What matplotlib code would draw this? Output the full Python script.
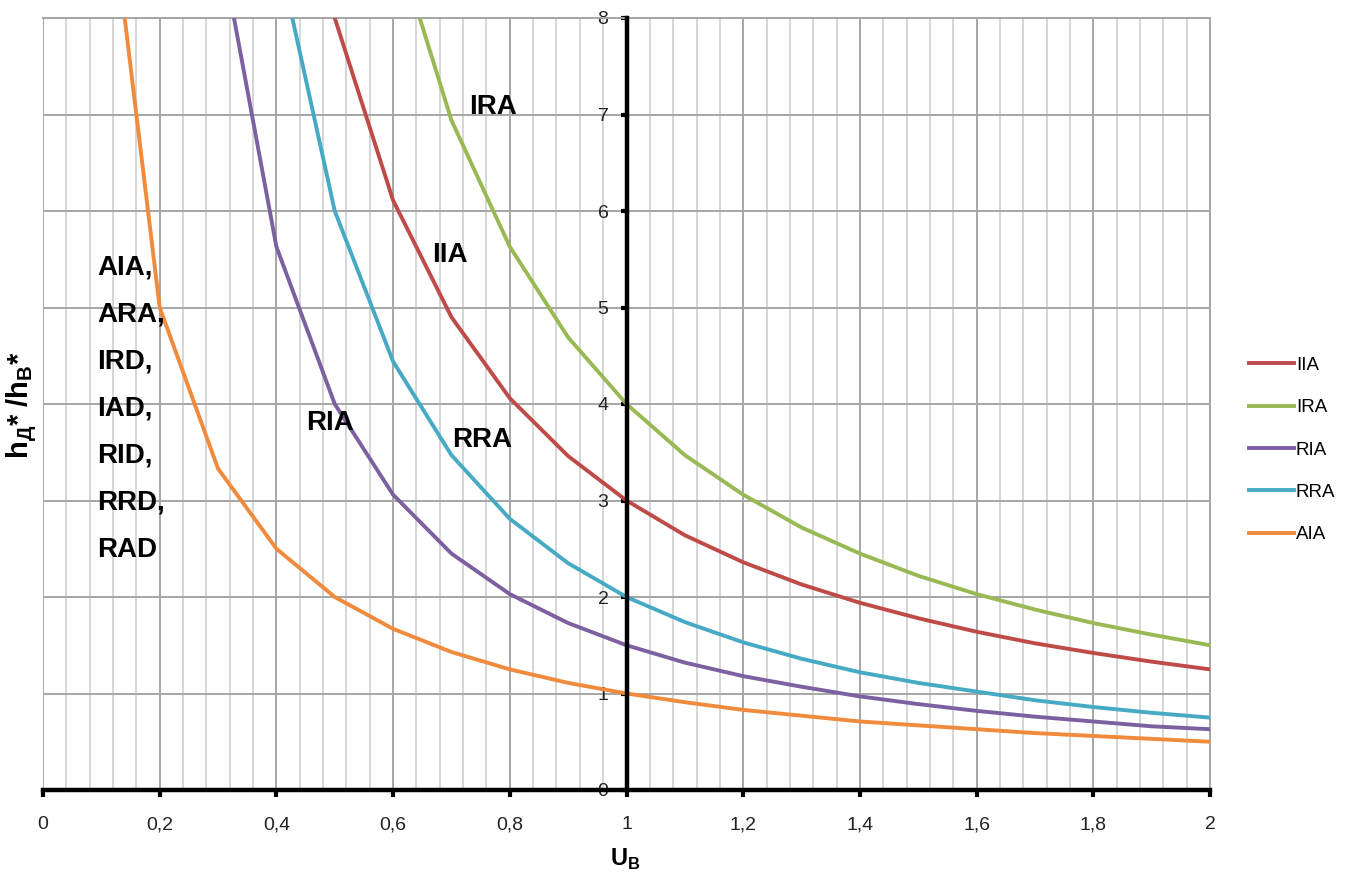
import matplotlib
matplotlib.use('Agg')
import matplotlib.pyplot as plt
from matplotlib.ticker import MultipleLocator, FixedLocator, FixedFormatter

plt.rcParams['font.family'] = ['Liberation Sans', 'DejaVu Sans']

# ---- data (step 0.1 on U_B) ----
u_b = [0.1, 0.2, 0.3, 0.4, 0.5, 0.6, 0.7, 0.8, 0.9, 1.0,
       1.1, 1.2, 1.3, 1.4, 1.5, 1.6, 1.7, 1.8, 1.9, 2.0]

iia = [120, 35, 17.8, 11.25, 8.0, 6.11, 4.9, 4.06, 3.46, 3.0,
       2.64, 2.36, 2.13, 1.94, 1.78, 1.64, 1.52, 1.42, 1.33, 1.25]
ira = [220, 60, 28.9, 17.5, 12.0, 8.89, 6.94, 5.63, 4.69, 4.0,
       3.47, 3.06, 2.72, 2.45, 2.22, 2.03, 1.87, 1.73, 1.61, 1.5]
ria = [60, 17.5, 8.89, 5.63, 4.0, 3.06, 2.45, 2.03, 1.73, 1.5,
       1.32, 1.18, 1.07, 0.97, 0.89, 0.82, 0.76, 0.71, 0.66, 0.63]
rra = [110, 30, 14.4, 8.75, 6.0, 4.44, 3.47, 2.81, 2.35, 2.0,
       1.74, 1.53, 1.36, 1.22, 1.11, 1.02, 0.93, 0.86, 0.80, 0.75]
aia = [10, 5.0, 3.33, 2.5, 2.0, 1.67, 1.43, 1.25, 1.11, 1.0,
       0.91, 0.83, 0.77, 0.71, 0.67, 0.63, 0.59, 0.56, 0.53, 0.5]

series_names = ['IIA', 'IRA', 'RIA', 'RRA', 'AIA']
series_vals = [iia, ira, ria, rra, aia]
colors = ['#BE4B48', '#98B954', '#7D60A0', '#46AAC5', '#F08A3C']

x_ticks = [0, 0.2, 0.4, 0.6, 0.8, 1.0, 1.2, 1.4, 1.6, 1.8, 2.0]
x_tick_labels = ['0', '0,2', '0,4', '0,6', '0,8', '1', '1,2', '1,4', '1,6', '1,8', '2']
y_ticks = [0, 1, 2, 3, 4, 5, 6, 7, 8]

group_label = ['AIA,', 'ARA,', 'IRD,', 'IAD,', 'RID,', 'RRD,', 'RAD']

# ---- figure ----
fig = plt.figure(figsize=(13.48, 8.76), dpi=100)
ax = fig.add_axes([43 / 1348, 1 - 790 / 876, 1167 / 1348, 772 / 876])

for name, vals, c in zip(series_names, series_vals, colors):
    ax.plot(u_b, vals, color=c, lw=2.8, label=name, zorder=3)

ax.set_xlim(0, 2)
ax.set_ylim(0, 8)

# grid
ax.xaxis.set_major_locator(FixedLocator(x_ticks))
ax.xaxis.set_major_formatter(FixedFormatter(x_tick_labels))
ax.xaxis.set_minor_locator(MultipleLocator(0.04))
ax.yaxis.set_major_locator(FixedLocator(y_ticks))
ax.grid(which='major', color='#A6A6A6', lw=1.4, zorder=0)
ax.grid(which='minor', axis='x', color='#CFCFCF', lw=1.2, zorder=0)
ax.set_axisbelow(True)

# axes lines: y axis sits at U_B = 1
ax.spines['left'].set_position(('data', 1.0))
ax.spines['left'].set_linewidth(3.2)
ax.spines['bottom'].set_linewidth(3.2)
ax.spines['left'].set_zorder(4)
ax.spines['bottom'].set_zorder(4)
for s in ['top', 'right']:
    ax.spines[s].set_color('#A6A6A6')
    ax.spines[s].set_linewidth(1.4)

ax.tick_params(axis='x', which='major', direction='out', length=5, width=3,
               labelsize=14, pad=14, colors='black', labelcolor='#222222')
ax.tick_params(axis='x', which='minor', length=0)
ax.tick_params(axis='y', direction='out', length=4, width=3,
               labelsize=14, pad=9, labelcolor='#222222')

# curve labels
lbl = dict(fontsize=20, fontweight='bold', color='black', zorder=5)
ax.text(0.771, 7.08, 'IRA', ha='center', va='center', **lbl)
ax.text(0.698, 5.54, 'IIA', ha='center', va='center', **lbl)
ax.text(0.492, 3.80, 'RIA', ha='center', va='center', **lbl)
ax.text(0.752, 3.63, 'RRA', ha='center', va='center', **lbl)
for i, t in enumerate(group_label):
    ax.text(0.0925, 5.41 - i * 0.487, t, ha='left', va='center', **lbl)

# axis titles
fig.text(22 / 1348, 1 - 405 / 876, r'h$_\mathregular{Д}$* /h$_\mathregular{B}$*',
         rotation=90, ha='center', va='center', fontsize=21, fontweight='bold')
fig.text(625 / 1348, 1 - 859 / 876, r'U$_\mathregular{B}$',
         ha='center', va='center', fontsize=17, fontweight='bold')

fig.legend(loc='center left', bbox_to_anchor=(1249 / 1348, 1 - 450 / 876),
           frameon=False, fontsize=13.5, handlelength=2.4, handletextpad=0.1,
           labelspacing=1.35, borderpad=0, borderaxespad=0)

fig.savefig('out.png', dpi=100)
